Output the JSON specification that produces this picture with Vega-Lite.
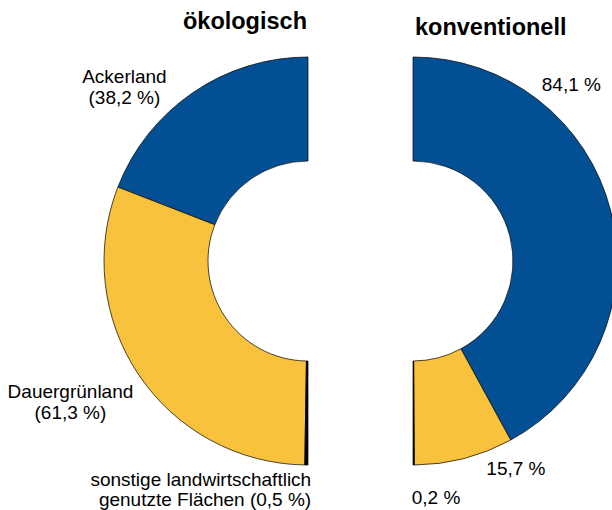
{
  "$schema": "https://vega.github.io/schema/vega-lite/v6.json",
  "autosize": {"type": "none"},
  "width": 105,
  "height": 498,
  "padding": {"left": 308, "right": 199, "top": 12, "bottom": 0},
  "background": "#ffffff",
  "config": {"view": {"stroke": null}, "font": "Liberation Sans", "text": {"fontSize": 19, "color": "#000000"}},
  "data": {"values": [
    {"gruppe": "ökologisch", "kategorie": "Ackerland", "anteil": 38.2, "label": "Ackerland\n(38,2 %)"},
    {"gruppe": "ökologisch", "kategorie": "Dauergrünland", "anteil": 61.3, "label": "Dauergrünland\n(61,3 %)"},
    {"gruppe": "ökologisch", "kategorie": "sonstige landwirtschaftlich genutzte Flächen", "anteil": 0.5, "label": "sonstige landwirtschaftlich\ngenutzte Flächen (0,5 %)"},
    {"gruppe": "konventionell", "kategorie": "Ackerland", "anteil": 84.1, "label": "84,1 %"},
    {"gruppe": "konventionell", "kategorie": "Dauergrünland", "anteil": 15.7, "label": "15,7 %"},
    {"gruppe": "konventionell", "kategorie": "sonstige landwirtschaftlich genutzte Flächen", "anteil": 0.2, "label": "0,2 %"}
  ]},
  "encoding": {
    "x": {"field": "gruppe", "type": "nominal", "scale": {"type": "point", "domain": ["ökologisch", "konventionell"], "padding": 0}, "axis": null}
  },
  "layer": [
    {
      "transform": [{"filter": "datum.gruppe === 'ökologisch'"}],
      "encoding": {
        "theta": {"field": "anteil", "type": "quantitative", "stack": true, "scale": {"domain": [0, 100], "range": [0, -3.14159265], "nice": false}},
        "order": {"field": "kategorie", "type": "ordinal", "sort": "ascending"}
      },
      "layer": [
        {
          "mark": {"type": "arc", "innerRadius": 100, "outerRadius": 204, "stroke": "#000000", "strokeWidth": 0.7},
          "encoding": {
            "color": {"field": "kategorie", "type": "nominal", "legend": null,
              "scale": {"domain": ["Ackerland", "Dauergrünland", "sonstige landwirtschaftlich genutzte Flächen"], "range": ["#034f94", "#f9c23c", "#000000"]}}
          }
        },
        {
          "mark": {"type": "text", "radius": 252, "align": "center", "baseline": "middle", "lineBreak": "\n", "lineHeight": 21, "dy": -11},
          "encoding": {
            "theta": {"field": "anteil", "type": "quantitative", "stack": true, "bandPosition": 0.68},
            "text": {"condition": {"test": "datum.kategorie === 'Ackerland'", "field": "label", "type": "nominal"}, "value": ""}
          }
        },
        {
          "mark": {"type": "text", "radius": 277, "align": "center", "baseline": "middle", "lineBreak": "\n", "lineHeight": 21, "dy": -11},
          "encoding": {
            "theta": {"field": "anteil", "type": "quantitative", "stack": true, "bandPosition": 0.473},
            "text": {"condition": {"test": "datum.kategorie === 'Dauergrünland'", "field": "label", "type": "nominal"}, "value": ""}
          }
        },
        {
          "mark": {"type": "text", "radius": 232, "align": "right", "baseline": "middle", "lineBreak": "\n", "lineHeight": 20, "dx": 5, "dy": -13},
          "encoding": {
            "theta": {"field": "anteil", "type": "quantitative", "stack": true, "bandPosition": 0.5},
            "text": {"condition": {"test": "indexof(datum.kategorie, 'sonstige') === 0", "field": "label", "type": "nominal"}, "value": ""}
          }
        }
      ]
    },
    {
      "transform": [{"filter": "datum.gruppe === 'konventionell'"}],
      "encoding": {
        "theta": {"field": "anteil", "type": "quantitative", "stack": true, "scale": {"domain": [0, 100], "range": [0, 3.14159265], "nice": false}},
        "order": {"field": "kategorie", "type": "ordinal", "sort": "ascending"}
      },
      "layer": [
        {
          "mark": {"type": "arc", "innerRadius": 100, "outerRadius": 204, "stroke": "#000000", "strokeWidth": 0.7},
          "encoding": {
            "color": {"field": "kategorie", "type": "nominal", "legend": null,
              "scale": {"domain": ["Ackerland", "Dauergrünland", "sonstige landwirtschaftlich genutzte Flächen"], "range": ["#034f94", "#f9c23c", "#000000"]}}
          }
        },
        {
          "mark": {"type": "text", "radius": 237, "align": "center", "baseline": "middle"},
          "encoding": {
            "theta": {"field": "anteil", "type": "quantitative", "stack": true, "bandPosition": 0.277},
            "text": {"condition": {"test": "datum.kategorie === 'Ackerland'", "field": "label", "type": "nominal"}, "value": ""}
          }
        },
        {
          "mark": {"type": "text", "radius": 232.5, "align": "center", "baseline": "middle"},
          "encoding": {
            "theta": {"field": "anteil", "type": "quantitative", "stack": true, "bandPosition": 0.083},
            "text": {"condition": {"test": "datum.kategorie === 'Dauergrünland'", "field": "label", "type": "nominal"}, "value": ""}
          }
        },
        {
          "mark": {"type": "text", "radius": 237.5, "align": "left", "baseline": "middle", "dx": -2},
          "encoding": {
            "theta": {"field": "anteil", "type": "quantitative", "stack": true, "bandPosition": 0.5},
            "text": {"condition": {"test": "indexof(datum.kategorie, 'sonstige') === 0", "field": "label", "type": "nominal"}, "value": ""}
          }
        }
      ]
    },
    {
      "transform": [{"filter": "datum.gruppe === 'ökologisch' && datum.kategorie === 'Ackerland'"}],
      "mark": {"type": "text", "theta": 0, "radius": 231.7, "align": "right", "baseline": "alphabetic", "fontSize": 23.5, "fontWeight": "bold", "dx": -1},
      "encoding": {"text": {"field": "gruppe", "type": "nominal"}}
    },
    {
      "transform": [{"filter": "datum.gruppe === 'konventionell' && datum.kategorie === 'Ackerland'"}],
      "mark": {"type": "text", "theta": 0, "radius": 226, "align": "left", "baseline": "alphabetic", "fontSize": 23.5, "fontWeight": "bold", "dx": 2},
      "encoding": {"text": {"field": "gruppe", "type": "nominal"}}
    }
  ],
  "resolve": {"scale": {"theta": "independent"}}
}
